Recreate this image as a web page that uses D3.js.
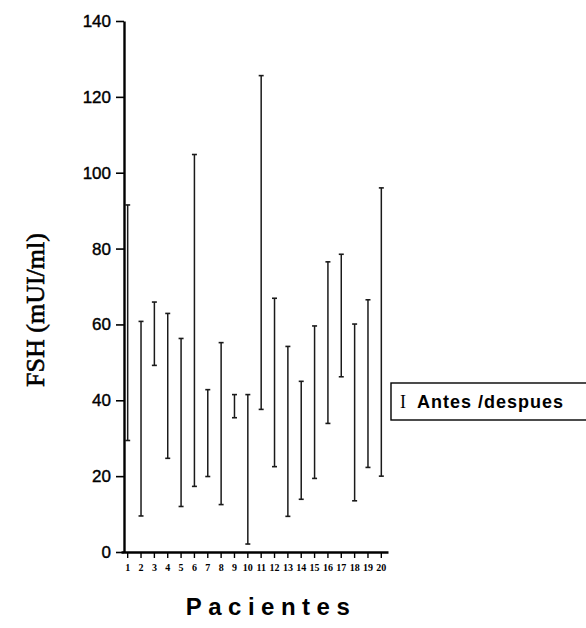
<!DOCTYPE html>
<html>
    <head>
        <title>FSH antes / despues</title>
        <style>
            body { margin: 0; background: #fff; }
        </style>
    </head>

    <body>
        <div id="chart"></div>

        <script src="https://cdn.jsdelivr.net/npm/d3@7/dist/d3.min.js"></script>
        <script>
            var pacientes = ["1", "2", "3", "4", "5", "6", "7", "8", "9", "10",
                             "11", "12", "13", "14", "15", "16", "17", "18", "19", "20"];
            var valorAlto = [91.5, 60.8, 65.9, 62.9, 56.3, 104.8, 42.8, 55.2, 41.5, 41.5,
                             125.6, 66.9, 54.2, 45.0, 59.6, 76.5, 78.5, 60.1, 66.5, 96.0];
            var valorBajo = [29.4, 9.5, 49.2, 24.7, 12.0, 17.3, 19.9, 12.5, 35.4, 2.1,
                             37.6, 22.5, 9.4, 13.9, 19.4, 33.9, 46.2, 13.5, 22.3, 20.0];
            var yTicks = [0, 20, 40, 60, 80, 100, 120, 140];

            var data = pacientes.map(function(p, i) {
                return { paciente: p, alto: valorAlto[i], bajo: valorBajo[i] };
            });

            var svg = d3.select("#chart").append("svg")
                .attr("width", 586)
                .attr("height", 628);

            var x = d3.scaleBand()
                .domain(pacientes)
                .range([121, 388]);

            var y = d3.scaleLinear()
                .domain([0, 140])
                .range([552, 21]);

            // eje y
            var yAxis = svg.append("g")
                .attr("transform", "translate(124,0)")
                .call(d3.axisLeft(y).tickValues(yTicks).tickSize(8).tickSizeOuter(0).tickPadding(5));
            yAxis.select(".domain").attr("stroke-width", 2.4);
            yAxis.selectAll(".tick line").attr("stroke-width", 1.6);
            yAxis.selectAll(".tick text")
                .style("font-family", "Liberation Sans, Arial, sans-serif")
                .style("font-size", "17px")
                .style("fill", "#000")
                .style("stroke", "#000")
                .style("stroke-width", "0.4px");

            // eje x
            var xAxis = svg.append("g")
                .attr("transform", "translate(0,552)")
                .call(d3.axisBottom(x).tickSize(6).tickSizeOuter(0).tickPadding(6));
            xAxis.select(".domain").attr("stroke-width", 2.4);
            xAxis.selectAll(".tick line").attr("stroke-width", 1.4);
            xAxis.selectAll(".tick text")
                .style("font-family", "Liberation Serif, Times New Roman, serif")
                .style("font-weight", "bold")
                .style("font-size", "10px")
                .style("fill", "#000");

            // lineas antes / despues
            var barras = svg.selectAll(".rango")
                .data(data)
                .enter().append("g")
                    .attr("class", "rango")
                    .attr("stroke", "#1a1a1a")
                    .attr("transform", function(d) { return "translate(" + (x(d.paciente) + x.bandwidth() / 2) + ",0)"; });

            barras.append("line")
                .attr("x1", 0).attr("x2", 0)
                .attr("y1", function(d) { return y(d.alto); })
                .attr("y2", function(d) { return y(d.bajo); })
                .attr("stroke-width", 1.5);

            barras.append("line")
                .attr("x1", -2.5).attr("x2", 2.5)
                .attr("y1", function(d) { return y(d.alto); })
                .attr("y2", function(d) { return y(d.alto); })
                .attr("stroke-width", 1.6);

            barras.append("line")
                .attr("x1", -2.5).attr("x2", 2.5)
                .attr("y1", function(d) { return y(d.bajo); })
                .attr("y2", function(d) { return y(d.bajo); })
                .attr("stroke-width", 1.6);

            // titulos
            svg.append("text")
                .attr("transform", "translate(44,310) rotate(-90)")
                .attr("text-anchor", "middle")
                .style("font-family", "Liberation Serif, Times New Roman, serif")
                .style("font-size", "26px")
                .style("stroke", "#000")
                .style("stroke-width", "0.6px")
                .text("FSH (mUI/ml)");

            svg.append("text")
                .attr("x", 271)
                .attr("y", 615)
                .attr("text-anchor", "middle")
                .style("font-family", "Liberation Sans, Arial, sans-serif")
                .style("font-weight", "bold")
                .style("font-size", "24px")
                .style("letter-spacing", "6.5px")
                .text("Pacientes");

            // leyenda
            var leyenda = svg.append("g").attr("transform", "translate(391,383)");
            leyenda.append("rect")
                .attr("x", 0).attr("y", 0)
                .attr("width", 200).attr("height", 37)
                .attr("fill", "none")
                .attr("stroke", "#000")
                .attr("stroke-width", 1.4);
            leyenda.append("text")
                .attr("x", 9).attr("y", 25)
                .style("font-family", "Liberation Serif, Times New Roman, serif")
                .style("font-size", "18px")
                .text("I");
            leyenda.append("text")
                .attr("x", 26).attr("y", 25)
                .style("font-family", "Liberation Sans, Arial, sans-serif")
                .style("font-size", "18px")
                .style("font-weight", "bold")
                .style("letter-spacing", "1px")
                .text("Antes /despues");
        </script>
    </body>
</html>
